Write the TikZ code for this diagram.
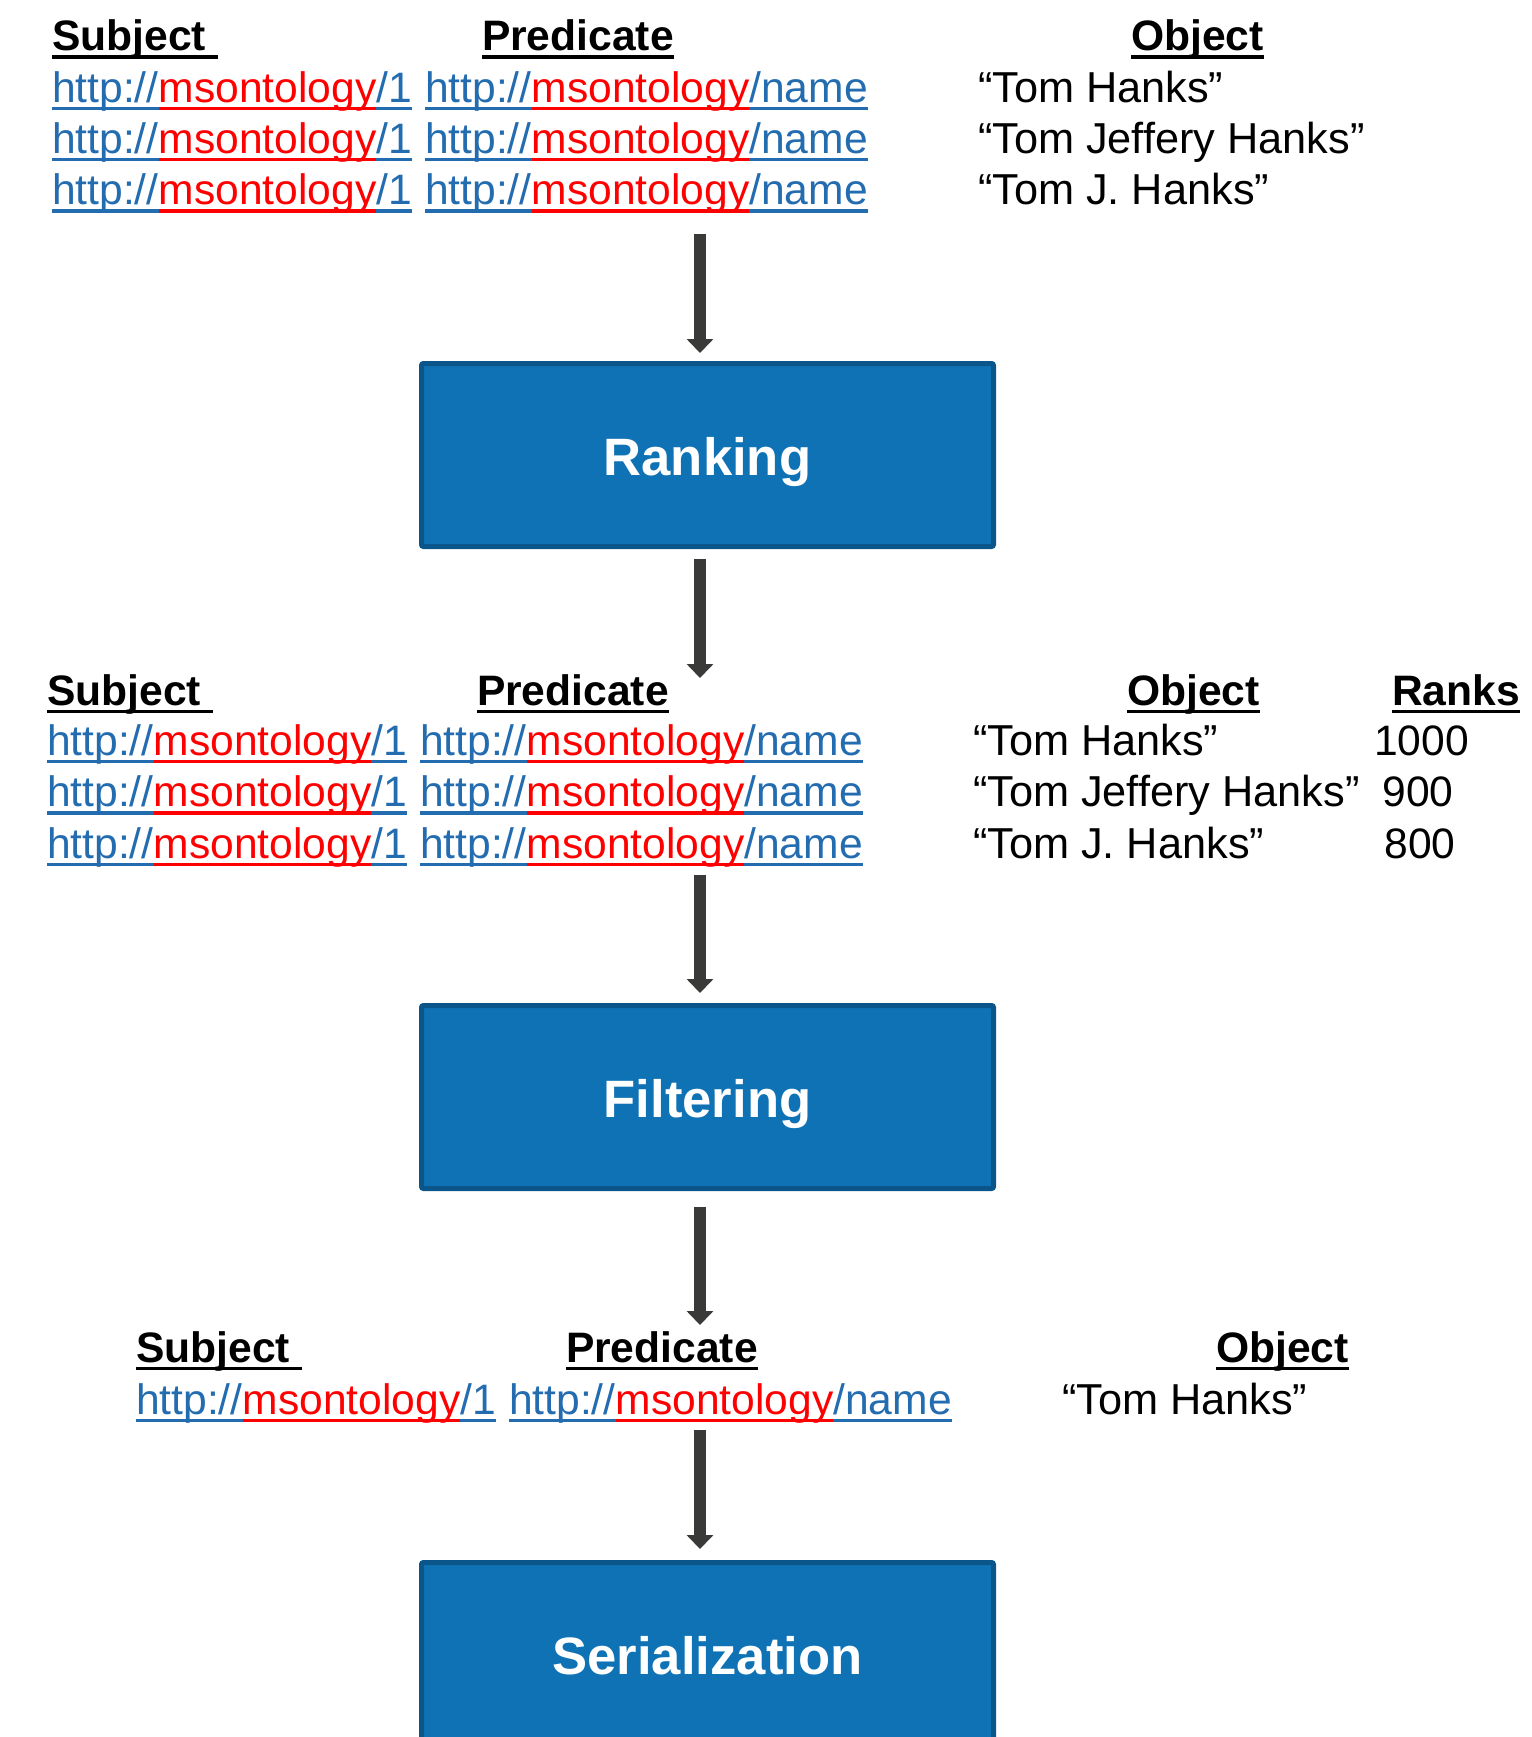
\documentclass[tikz,border=0pt]{standalone}
\usepackage{fontspec}
\setmainfont{Liberation Sans}
\usetikzlibrary{arrows.meta}
\definecolor{lblue}{RGB}{36,108,176}
\definecolor{boxfill}{RGB}{15,114,180}
\definecolor{boxline}{RGB}{10,85,137}
\definecolor{arrgray}{RGB}{58,58,56}
\newcommand\ulx[3]{\setbox0=\hbox{\color{#2}#3}\rlap{\color{#1}\rule[-8.3pt]{\wd0}{3.8pt}}\box0}
\newcommand\lnk[1]{\ulx{lblue}{lblue}{http://}\ulx{red}{red}{msontology}\ulx{lblue}{lblue}{/#1}}
\newcommand\hd[1]{\ulx{black}{black}{\bfseries #1}}
\begin{document}
\begin{tikzpicture}[x=1pt,y=-1pt,
  txt/.style={anchor=base west, inner sep=0pt, outer sep=0pt, font=\fontsize{42.6pt}{51pt}\selectfont},
  obj/.style={txt, font=\fontsize{43.3pt}{52pt}\selectfont},
  stage/.style={draw=boxline, line width=5pt, fill=boxfill, rounded corners=2pt,
    minimum width=572pt, minimum height=183pt, inner sep=0pt,
    text height=41pt, text depth=0pt,
    font=\fontsize{52.6pt}{60pt}\selectfont\bfseries, text=white},
  arr/.style={draw=arrgray, line width=12pt, -{Triangle[width=26pt,length=14pt]}}]
\useasboundingbox (0,0) rectangle (1531,1737);
\clip (0,0) rectangle (1531,1737);

% ---- section 1
\node[txt] (s1h) at (52,50.5) {\hd{Subject }};
\node[txt] (p1h) at (482,50.5) {\hd{Predicate}};
\node[txt] (o1h) at (1131,50.5) {\hd{Object}};
\node[txt] (s1a) at (52,102) {\lnk{1}};
\node[txt] (p1a) at (425,102) {\lnk{name}};
\node[obj] (o1a) at (978,102) {“Tom Hanks”};
\node[txt] (s1b) at (52,153) {\lnk{1}};
\node[txt] (p1b) at (425,153) {\lnk{name}};
\node[obj] (o1b) at (978,153) {“Tom Jeffery Hanks”};
\node[txt] (s1c) at (52,204.5) {\lnk{1}};
\node[txt] (p1c) at (425,204.5) {\lnk{name}};
\node[obj] (o1c) at (978,204.5) {“Tom J. Hanks”};

% ---- boxes
\node[stage] (rank) at (707.5,455) {Ranking};
\node[stage] (filt) at (707.5,1097) {Filtering};
\node[stage] (ser) at (707.5,1654) {Serialization};

% ---- section 2
\node[txt] (s2h) at (47,705) {\hd{Subject }};
\node[txt] (p2h) at (477,705) {\hd{Predicate}};
\node[txt] (o2h) at (1127,705) {\hd{Object}};
\node[txt] (r2h) at (1392,705) {\hd{Ranks}};
\node[txt] (s2a) at (47,755) {\lnk{1}};
\node[txt] (p2a) at (420,755) {\lnk{name}};
\node[obj] (o2a) at (973,755) {“Tom Hanks”};
\node[txt] (r2a) at (1374,755) {1000};
\node[txt] (s2b) at (47,806.5) {\lnk{1}};
\node[txt] (p2b) at (420,806.5) {\lnk{name}};
\node[obj] (o2b) at (973,806.5) {“Tom Jeffery Hanks”};
\node[txt] (r2b) at (1382.5,806.5) {900};
\node[txt] (s2c) at (47,858) {\lnk{1}};
\node[txt] (p2c) at (420,858) {\lnk{name}};
\node[obj] (o2c) at (973,858) {“Tom J. Hanks”};
\node[txt] (r2c) at (1384.5,858) {800};

% ---- section 3
\node[txt] (s3h) at (136,1362) {\hd{Subject }};
\node[txt] (p3h) at (566,1362) {\hd{Predicate}};
\node[txt] (o3h) at (1216,1362) {\hd{Object}};
\node[txt] (s3a) at (136,1414) {\lnk{1}};
\node[txt] (p3a) at (509,1414) {\lnk{name}};
\node[obj] (o3a) at (1062,1414) {“Tom Hanks”};

% ---- arrows
\coordinate (c1) at (700,234);
\coordinate (e2) at (700,678);
\coordinate (c3) at (700,875);
\coordinate (e4) at (700,1325);
\coordinate (c5) at (700,1430);
\draw[arr, shorten >=8pt] (c1) -- (c1 |- rank.north);
\draw[arr, shorten <=10pt] (rank.south -| e2) -- (e2);
\draw[arr, shorten >=10pt] (c3) -- (c3 |- filt.north);
\draw[arr, shorten <=16pt] (filt.south -| e4) -- (e4);
\draw[arr, shorten >=11pt] (c5) -- (c5 |- ser.north);
\end{tikzpicture}
\end{document}
